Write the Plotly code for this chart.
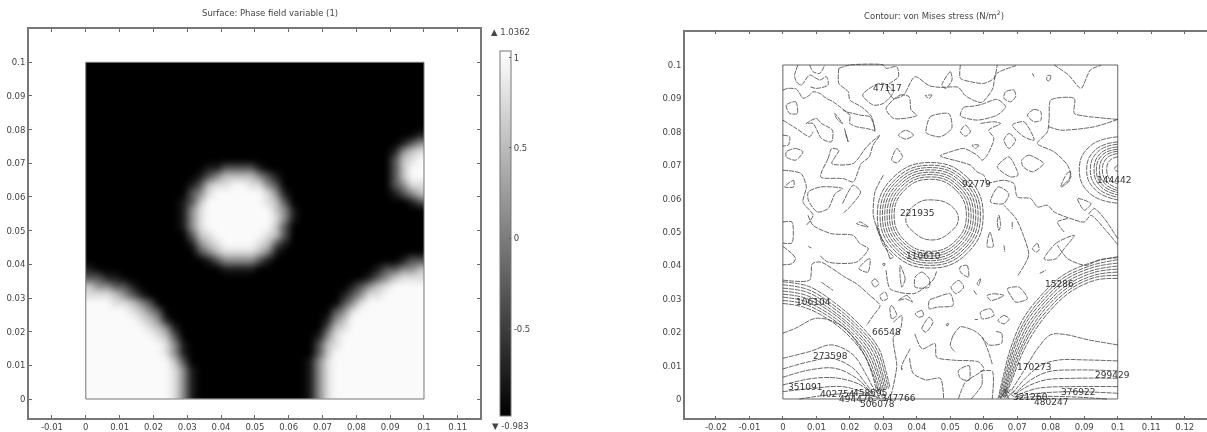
import plotly.graph_objects as go

W, H = 1207, 432
TXT = "#444444"
FONT = "DejaVu Sans"

# ---- left panel: phase field, one digit per cell (0 black ... 9 white)
PHASE_ROWS_TOP_DOWN = [
    "0"*40, "0"*40, "0"*40, "0"*40, "0"*40, "0"*40, "0"*40, "0"*40,
    "0"*39 + "1",
    "0"*37 + "135",
    "0"*36 + "1578",
    "0"*36 + "3789",
    "0"*14 + "11333310" + "0"*14 + "3799",
    "0"*13 + "1357777531" + "0"*13 + "3799",
    "0"*12 + "137889988530" + "0"*12 + "3588",
    "0"*12 + "358999999851" + "0"*12 + "1357",
    "0"*11 + "1379999999873" + "0"*14 + "13",
    "0"*11 + "15899999999751" + "0"*15,
    "0"*11 + "15899999999851" + "0"*15,
    "0"*11 + "1589999999973" + "0"*16,
    "0"*12 + "378999999873" + "0"*16,
    "0"*12 + "157899998731" + "0"*16,
    "0"*13 + "3578888751" + "0"*17,
    "0"*14 + "13555531" + "0"*15 + "133",
    "1" + "0"*15 + "1111" + "0"*14 + "133557",
    "3311" + "0"*29 + "1357888",
    "755331" + "0"*25 + "135789999",
    "8887531" + "0"*23 + "1358899999",
    "99988753" + "0"*22 + "3589999999",
    "999998753" + "0"*20 + "35899999999",
    "9999998751" + "0"*18 + "157999999999",
    "99999998751" + "0"*17 + "378999999999",
    "99999999873" + "0"*16 + "1589999999999",
    "999999999851" + "0"*15 + "3789999999999",
    "999999999851" + "0"*15 + "3799999999999",
    "999999999973" + "0"*14 + "15899999999999",
    "9999999999851" + "0"*13 + "15899999999999",
    "9999999999851" + "0"*13 + "15899999999999",
    "9999999999851" + "0"*13 + "15899999999999",
    "9999999999851" + "0"*13 + "15899999999999",
]
PHASE_MIN, PHASE_MAX = -0.983, 1.0362
CB_TICKS = [-0.5, 0, 0.5, 1]
CB_LABELS = ["-0.5", "0", "0.5", "1"]
LEFT_X_TICKS = [-0.01, 0, 0.01, 0.02, 0.03, 0.04, 0.05, 0.06, 0.07, 0.08, 0.09, 0.1, 0.11]
LEFT_X_LABELS = ["-0.01", "0", "0.01", "0.02", "0.03", "0.04", "0.05", "0.06", "0.07", "0.08", "0.09", "0.1", "0.11"]
RIGHT_X_TICKS = [-0.02] + LEFT_X_TICKS + [0.12]
RIGHT_X_LABELS = ["-0.02"] + LEFT_X_LABELS + ["0.12"]
Y_TICKS = [0, 0.01, 0.02, 0.03, 0.04, 0.05, 0.06, 0.07, 0.08, 0.09, 0.1]
Y_LABELS = ["0", "0.01", "0.02", "0.03", "0.04", "0.05", "0.06", "0.07", "0.08", "0.09", "0.1"]
SQUARE_X = [0, 0.1, 0.1, 0, 0]
SQUARE_Y = [0, 0, 0.1, 0.1, 0]

# ---- right panel: contour lines, in millimetres
RINGS_CENTRE = [
    [(59.8,55),(55.2,66.2),(44,70.8),(32.8,66.2),(28.2,55),(32.8,43.8),(44,39.2),(55.2,43.8),(59.8,55)],
    [(59,55),(54.6,65.6),(44,70),(33.4,65.6),(29,55),(33.4,44.4),(44,40),(54.6,44.4),(59,55)],
    [(58.3,55),(54.1,65.1),(44,69.3),(33.9,65.1),(29.7,55),(33.9,44.9),(44,40.7),(54.1,44.9),(58.3,55)],
    [(57.6,55),(53.6,64.6),(44,68.6),(34.4,64.6),(30.4,55),(34.4,45.4),(44,41.4),(53.6,45.4),(57.6,55)],
    [(56.9,55),(53.1,64.1),(44,67.9),(34.9,64.1),(31.1,55),(34.9,45.9),(44,42.1),(53.1,45.9),(56.9,55)],
    [(56.2,55),(52.6,63.6),(44,67.2),(35.4,63.6),(31.8,55),(35.4,46.4),(44,42.8),(52.6,46.4),(56.2,55)],
    [(55.5,55),(52.1,63.1),(44,66.5),(35.9,63.1),(32.5,55),(35.9,46.9),(44,43.5),(52.1,46.9),(55.5,55)],
    [(54.8,55),(51.6,62.6),(44,65.8),(36.4,62.6),(33.2,55),(36.4,47.4),(44,44.2),(51.6,47.4),(54.8,55)],
    [(52.4,54),(50,58),(44.5,59.6),(40,58.5),(36.7,54),(39,50),(44.5,47.6),(50,50),(52.4,54)],
]
RINGS_RIGHT = [
    [(100,78.5),(91.7,75.7),(88.5,68.6),(91.7,61.5),(100,58.6)],
    [(100,77),(93.3,74.6),(90.7,68.6),(93.3,62.6),(100,59.6)],
    [(100,76.3),(94.1,74.1),(91.8,68.6),(94.1,63.1),(100,60.4)],
    [(100,75.5),(94.9,73.6),(92.9,68.6),(94.9,63.6),(100,61.1)],
    [(100,74.8),(95.4,73.1),(93.6,68.6),(95.4,64.1),(100,61.8)],
    [(100,74.2),(96,72.6),(94.5,68.6),(96,64.6),(100,62.4)],
    [(100,73.5),(96.7,72.1),(95.4,68.6),(96.7,65.1),(100,63.1)],
    [(100,72.5),(97.6,71.4),(96.7,68.6),(97.6,65.8),(100,64.4)],
    [(100,70),(99,69),(100,68)],
]
# fans: one row per control point, one column per line
FAN_BL_X = [
    [0,0,0,0,0,0,0,0],
    [8,7.7,7.4,7.1,6.8,6.5,6.2,5.9],
    [15.6,15.1,14.7,14.2,13.8,13.3,12.9,12.4],
    [23,22.4,21.8,21.2,20.7,20.1,19.5,18.9],
    [28.6,28,27.4,26.8,26.1,25.5,24.9,24.3],
    [30.8,30.3,29.7,29.2,28.6,28.1,27.5,27],
    [32,31.5,31,30.5,30.1,29.6,29.1,28.6],
]
FAN_BL_Y = [
    [35.1,34.2,33.2,32.3,31.4,30.5,29.5,28.6],
    [33.6,32.7,31.9,31,30.2,29.3,28.5,27.6],
    [28.7,28.1,27.5,26.9,26.4,25.8,25.2,24.6],
    [22.2,21.8,21.5,21.1,20.8,20.4,20.1,19.7],
    [15.2,14.9,14.6,14.3,14.1,13.8,13.5,13.2],
    [8.2,8.1,7.9,7.8,7.6,7.5,7.3,7.2],
    [3.2,3.1,2.9,2.8,2.6,2.5,2.3,2.2],
]
FAN_BR_X = [
    [100,100,100,100,100,100,100,100],
    [92.3,92.5,92.6,92.8,92.9,93.1,93.2,93.4],
    [83.7,84,84.3,84.6,85,85.3,85.6,85.9],
    [77.2,77.6,78,78.4,78.7,79.1,79.5,79.9],
    [71.8,72.3,72.7,73.2,73.6,74.1,74.5,75],
    [68,68.5,68.9,69.4,69.9,70.4,70.8,71.3],
    [65.9,66.3,66.7,67.1,67.4,67.8,68.2,68.6],
    [64.3,64.6,64.9,65.2,65.5,65.8,66.1,66.4],
]
FAN_BR_Y = [
    [42.6,41.7,40.7,39.8,38.9,38,37,36.1],
    [40.9,40.1,39.4,38.6,37.9,37.1,36.4,35.6],
    [37.1,36.4,35.7,35,34.2,33.5,32.8,32.1],
    [31.1,30.5,29.8,29.2,28.5,27.9,27.2,26.6],
    [24.1,23.5,23,22.4,21.8,21.2,20.7,20.1],
    [15.2,14.9,14.6,14.3,14.1,13.8,13.5,13.2],
    [7.2,7.1,6.9,6.8,6.6,6.5,6.3,6.2],
    [.2,.3,.3,.4,.5,.5,.6,.7],
]
CORNER_LINES = [
    [(0,19.7),(3.8,21.2),(10.3,24.2),(17.8,21.7),(23.2,15.2),(26.4,8.2),(28,2.2)],
    [(0,12.2),(8,14.2),(14.6,16.2),(21,13.2),(24.9,7.2),(27.5,2.2)],
    [(0,9),(8,11.2),(14.6,12.2),(21,9.2),(24.3,5.2),(27,1.7)],
    [(0,6.5),(8,8.7),(15.6,9.2),(22,6.2),(26.5,1.7)],
    [(0,4.2),(9.2,6.2),(16.7,6.2),(23.2,4.2),(26.9,1.2)],
    [(0,2.2),(9.2,3.2),(17.8,3.7),(26.5,1.2)],
    [(4.9,0),(13.5,1.2),(22.1,1.7),(28.6,.4)],
    [(27.5,3),(29,0)], [(28,3.5),(30,0)], [(26,2.5),(28.5,0)], [(29,3.5),(31,0)],
    [(100,16.2),(91.3,17.7),(83.7,19.4),(79.9,19.2),(76.1,15.2),(71.8,8.2),(68,2.2)],
    [(100,11.4),(90.2,11.7),(82.6,11.7),(77.2,10.2),(72.4,6.2),(68.6,1.7)],
    [(100,8.4),(88,8.7),(79.4,8.2),(74,5.7),(69.1,1.4)],
    [(100,6.2),(86.9,6.2),(78.3,5.7),(72.9,3.7),(69.1,1.2)],
    [(100,3.7),(85.9,3.7),(76.1,3.2),(69.7,1)],
    [(100,1.7),(86.9,2.2),(76.1,1.7),(69.7,.7)],
    [(96.7,0),(84.8,.7),(75,.7),(69.7,.2)],
    [(66,3),(67.5,0)], [(67,3.5),(65,0)], [(68,3),(66,0)], [(69,2.5),(66.5,0)], [(66.5,2.5),(70,0)],
]
NOISE_LINES = [
    [(0,92.5),(1.5,93),(4,92.8),(5,91.5),(6,90),(8,91),(9,92),(11,91.5),(13,90),(15,89),(17,87.5),(19,86),(21,85.5),(23,85),(26,84.5),(27,82.5),(27.5,80.5),(25,81),(22,81.5),(20,82.5),(20,85),(18,86.5)],
    [(4.5,100),(3.5,97),(4,95),(5.5,94),(8,97),(11,95.5),(13,96.5),(13.5,94),(10,93),(8,93.5)],
    [(8,100),(9,98),(11,97.5),(12.5,100)],
    [(16.7,99),(16.7,94.5),(19.5,92),(20,89.5),(23.4,87.5),(26.5,84.5),(27.5,80)],
    [(16.7,99),(20,100),(30,100),(30.8,99),(34,99.5),(34.5,96.5),(31,93.5),(33,90),(36,91),(39.4,96.5),(43.7,93.8),(47,93.3),(52.4,93.3),(54.5,90.8),(59.3,88.8),(62.6,92.8),(63.7,97.3),(69.6,99.8)],
    [(23.8,91),(27.5,94),(30,94.5),(33,92),(30,88.5),(27,88),(23.8,91)],
    [(30.8,87),(35,91),(37.7,90.5),(38.3,86.5),(40,84.9),(33,84),(30.8,87)],
    [(47.5,94),(50,98),(50.5,95.5),(48.6,93),(47.5,94)],
    [(53,100),(53,96),(56,95),(60,94.5),(63,96),(64,100)],
    [(66.5,92),(69,92.5),(69.5,90.5),(68,89),(66,90),(66.5,92)],
    [(42.5,90.8),(44.5,91),(43.7,90),(42.5,90.8)],
    [(79,96.8),(80,96.8),(79.5,95.2),(78.8,95.5),(79,96.8)],
    [(74.5,97.5),(75,96.5)],
    [(81,100),(85.3,97),(89,93),(91.8,98.5),(95,99.9)],
    [(100,83.7),(90.2,84.7),(87,85.5),(87,90),(80,89.5),(79.5,84),(79,80),(76,76.5),(81,74),(85,70),(86,66.5),(83.5,64)],
    [(100,83.7),(93,81.5),(83,80.5),(79.4,81.5)],
    [(53,84.8),(54,87.3),(57,87.7),(59.3,88.2),(64,89.7),(66.5,87.5),(64,85),(58,83.5),(53,84.8)],
    [(73,85),(75,86.7),(77,86),(77,83.5),(75,83),(73,85)],
    [(42.7,80),(44,84.5),(49.6,85.4),(50.4,81),(47,78.5),(43,79.5),(42.7,80)],
    [(34.5,79),(36.7,80.5),(39,79),(36.7,77.8),(34.5,79)],
    [(53,80),(54.5,82),(56,80),(54.5,78.7),(53,80)],
    [(59,82.5),(63,83),(65,82.5),(61.5,80.5),(63,78),(61,73),(59.5,71.5),(58,73),(54,75),(50,74),(47,72.8),(53,71),(56,70),(58,68),(60,67),(61,64)],
    [(66,77.5),(67.5,79.5),(69.5,77.5),(67.5,75),(66,77.5)],
    [(68.5,82),(72,83),(75,77.5),(72,78.5),(68.5,82)],
    [(56.5,76),(58.5,76),(57.5,75),(56.5,76)],
    [(1,88),(3.8,89),(4.3,85.5),(2,85.5),(1,88)],
    [(15.5,85.5),(17.8,82.5),(16,84),(15.5,85.5)],
    [(7,82.5),(10,84),(11.5,82.5),(14.8,80.5),(14.5,77),(11.5,78),(9,82.5),(7,82.5)],
    [(0,83.5),(4,81),(8,78.5),(9,80)],
    [(0,79),(2,78.5),(1.6,76),(0,75.8)],
    [(18.4,81),(19.5,77),(18.5,80)],
    [(1,74),(3.8,75),(6,74),(3.8,71.5),(1,72.5),(1,74)],
    [(11.3,66.5),(13.5,72),(14.6,75),(16.7,74.5),(14.6,70.5),(21,70.5),(25,75.5),(29,79),(26.9,76),(25.8,72.5),(23.4,70.5),(21,65),(18,66),(11.3,66.5)],
    [(32.5,71.5),(34,75),(35.7,72.5),(34,70.7),(32.5,71.5)],
    [(0,68.5),(5.4,67.5),(7,63.5),(6,59),(9,55),(7,52)],
    [(0.5,63.5),(3.2,65.5),(3.2,63.5),(0.5,63.5)],
    [(7.6,62),(11.3,63.5),(17.8,63),(15.6,61.5),(13.5,57),(10.3,56),(7.6,59.5),(7.6,62)],
    [(17.8,58.5),(21,64),(23.2,62),(20,57.5),(17.8,55.5)],
    [(64,69.5),(67.5,72.5),(70.2,67),(68,66.5),(64,69.5)],
    [(71.3,71.5),(73.4,73),(77.8,70.5),(74.5,68),(71.7,69.6),(71.3,71.5)],
    [(83,63.5),(84.8,67.5),(85.8,68),(85.3,65),(83,63.5)],
    [(62,59),(64.3,63.5),(67.5,61.5),(65.9,58.5),(62,59)],
    [(61,64.5),(66,65.5),(69,64.5),(70,60.5),(74,60),(76,57.5),(79,58),(81,56),(86,54),(90,53),(92,55),(96,51),(100,46.2)],
    [(0,45.7),(2.7,43.5),(3.8,42),(2.7,40.5),(0,40.2)],
    [(0,53),(2.7,53),(2.7,46.7),(0,46.7)],
    [(0,35.6),(8,35.6),(8.8,40.5),(11.3,41),(18.5,36.5),(22,34.5),(26,31),(29,28),(27,25),(25,22)],
    [(7.5,55),(9,52),(14.5,49.5),(21,49),(23,46.5),(25.5,45),(22,41),(13.5,41),(11,43)],
    [(32,42),(30.5,46),(28.5,50),(27,55),(27.5,62),(30,67)],
    [(35,40),(36.5,36),(35.5,33.5),(35,37),(35,40)],
    [(39.5,36.5),(41.5,38),(43.7,36),(43.7,33.5),(39.5,33.5),(39.5,36.5)],
    [(26.5,35),(27.5,36),(28.6,34.5),(27.5,33.5),(26.5,35)],
    [(22.7,39),(24.9,41.5),(26,42),(25.4,38),(22.7,39)],
    [(29.7,40.5),(30.5,40.5),(30.2,39.8),(29.7,40.5)],
    [(29,31),(30.6,32),(31.2,30),(29.6,29.5),(29,31)],
    [(34.5,29.5),(37,31),(38.7,29),(36.7,30),(34.5,29.5)],
    [(50.2,33.5),(52.5,35.5),(54,33.5),(51.7,31.5),(50.2,33.5)],
    [(52.9,39.5),(55,40),(55.4,36.5),(53,38),(52.9,39.5)],
    [(43.7,29.5),(46,30.5),(50,31.5),(50.8,28),(46,27.5),(43.7,27),(43.7,29.5)],
    [(58,34.6),(59,36),(58.5,34),(58,34.6)],
    [(57,32.5),(58,31)],
    [(61,31),(63,31.5),(66,31),(64,30),(62,29.5),(61,31)],
    [(67,33),(70.5,33.5),(73,30),(69.5,29),(68,31),(67,33)],
    [(59,26),(62,27),(63,25),(59.5,24),(59,26)],
    [(64.2,23.5),(66,25),(67.6,24),(66,22.5),(64.2,23.5)],
    [(39.5,25.5),(41.5,26.5),(42,25),(40.5,24.5),(39.5,25.5)],
    [(41.5,21),(43.7,24.5),(44.8,23),(42.7,20),(41.5,21)],
    [(48.8,22.5),(49.5,22.5),(49,21.8),(48.8,22.5)],
    [(32,27.5),(32.5,28),(34,25),(32.5,24),(32,27.5)],
    [(57.3,23.8),(58.2,23.8)],
    [(33,23),(35.5,25),(35,20.5),(33,18.5),(34,10),(33,4),(32,0)],
    [(39.4,19.5),(41.6,15),(45.4,16.6),(45.9,12.5),(51.3,11.6),(58.4,11.1),(60,9),(54.5,5),(52.4,0)],
    [(37.8,12.2),(38.9,7.7),(42.7,5.7),(47,6.2),(48,0)],
    [(52.4,8.5),(55.6,10),(55.6,5.6),(53,6.2),(52.4,8.5)],
    [(58.9,8.3),(62.5,8.3),(62.5,0)],
    [(56.2,0),(59.4,4.2),(59.4,7.7)],
    [(50.8,19),(53,21.6),(56.8,20.6),(59.4,18.6),(61,15.2),(62.6,10.2)],
    [(63.7,20.2),(65.3,19.7),(65.3,16.7),(61.5,16.2),(59.4,18.6)],
    [(50.8,19),(50,16),(51.5,14)],
    [(100,42.3),(94.5,41.7),(90.5,40),(85,42),(82,46)],
    [(70.2,37),(73.4,43.1),(71.8,49),(69.6,54),(66,58)],
    [(74.5,45),(76,46.6),(76.5,44.6),(75.6,44),(74.5,45)],
    [(78,42),(81.5,46.6),(87,49),(84,45),(81.5,42),(78.6,41.6),(78,42)],
    [(76.7,37.6),(78.5,38.5)],
    [(66,46),(66.3,44)],
    [(68.5,53),(68.5,51)],
    [(64,53),(64.5,55),(65,52),(64.5,50.5),(64,53)],
    [(61,45.6),(61.8,50),(62.8,45.6),(61,45.6)],
    [(22,52.5),(25.5,51.5),(23,53),(22,52.5)],
    [(7.6,45.7),(8.5,45.2)],
    [(11.5,35),(15,32.5)],
    [(30.8,38.6),(31.9,33.1),(34.5,32),(39.4,31.6),(44.8,35.6),(45.9,38.2)],
    [(38,15),(35.5,10),(35.5,8.5)],
    [(35.3,9),(35.8,9)],
    [(28,52),(30,46),(33,42.5),(32,42)],
    [(100,48),(96,54),(93,57),(91,55)],
    [(84,50),(82,53),(85,54)],
    [(88,60),(92,58.5),(90,56.5),(88,60)],
]
CONTOUR_LABELS = [
    ("47117", 31.3, 93), ("92779", 57.8, 64.3), ("144442", 98.8, 65.5), ("221935", 40, 55.8),
    ("110610", 42.1, 42.8), ("15286", 82.6, 34.4), ("106104", 9, 28.9), ("66548", 30.8, 20.2),
    ("273598", 14.3, 12.9), ("351091", 6.5, 3.6), ("402754", 16.2, 1.4), ("458595", 25.9, 1.7),
    ("494476", 21.9, -0.1), ("506078", 28.1, -1.5), ("347766", 34.6, 0.2), ("170273", 75, 9.6),
    ("299429", 98.5, 7.2), ("376922", 88, 2.1), ("321260", 74, 0.5), ("480247", 80.2, -1),
]

fig = go.Figure()

# two extra cells on each side (edge cells repeated) keep the soft edge of the image out of the square
PAD = 2
cells = [[PHASE_MIN + int(c) * 0.22 for c in row] for row in reversed(PHASE_ROWS_TOP_DOWN)]
cells = [row[:1] * PAD + row + row[-1:] * PAD for row in cells]
z = cells[:1] * PAD + cells + cells[-1:] * PAD
fig.add_trace(go.Heatmap(
    z=z, x0=0.00125 - PAD * 0.0025, dx=0.0025, y0=0.00125 - PAD * 0.0025, dy=0.0025, zsmooth="best",
    zmin=PHASE_MIN, zmax=PHASE_MAX, colorscale=[[0, "#000000"], [1, "#ffffff"]],
    xaxis="x", yaxis="y", hoverinfo="skip",
    colorbar=dict(
        x=500 / W, xanchor="left", xref="paper", y=(H - 416) / H, yanchor="bottom", yref="paper",
        len=365 / H, lenmode="fraction", thickness=11, thicknessmode="pixels",
        outlinecolor="#777777", outlinewidth=1, borderwidth=0, xpad=0, ypad=0,
        tickvals=CB_TICKS, ticktext=CB_LABELS, ticks="inside", ticklen=2, tickcolor="#555555",
        tickfont=dict(family=FONT, size=8.5, color=TXT),
    ),
))
fig.add_trace(go.Scatter(x=SQUARE_X, y=SQUARE_Y, mode="lines", line=dict(color="#777777", width=1),
                         xaxis="x", yaxis="y", showlegend=False, hoverinfo="skip"))
fig.add_trace(go.Scatter(x=SQUARE_X, y=SQUARE_Y, mode="lines", line=dict(color="#666666", width=1),
                         xaxis="x2", yaxis="y2", showlegend=False, hoverinfo="skip"))


def draw(points, smoothing):
    fig.add_trace(go.Scatter(
        x=[p[0] / 1000 for p in points], y=[p[1] / 1000 for p in points],
        mode="lines",
        line=dict(color="#333333", width=0.75, shape="spline", smoothing=smoothing, dash="5px,1px"),
        xaxis="x2", yaxis="y2", showlegend=False, hoverinfo="skip"))


for path in RINGS_CENTRE + RINGS_RIGHT:
    draw(path, 1.3)
for path in CORNER_LINES:
    draw(path, 1.0)
for path in NOISE_LINES:
    draw(path, 0.7)
for fx, fy in ((FAN_BL_X, FAN_BL_Y), (FAN_BR_X, FAN_BR_Y)):
    for col in range(len(fx[0])):
        draw([(rx[col], ry[col]) for rx, ry in zip(fx, fy)], 1.0)

for text, x_mm, y_mm in CONTOUR_LABELS:
    fig.add_annotation(x=x_mm / 1000, y=y_mm / 1000, xref="x2", yref="y2", text=text, showarrow=False,
                       font=dict(family=FONT, size=9, color="#333333"))

for text, px, py, size in (
    ("Surface: Phase field variable (1)", 270, 13, 8.5),
    ("Contour: von Mises stress (N/m<sup>2</sup>)", 934, 15, 8.5),
    ("▲ 1.0362", 510, 32, 8.5),
    ("▼ -0.983", 510, 426, 8.5),
):
    fig.add_annotation(x=px / W, y=1 - py / H, xref="paper", yref="paper", text=text, showarrow=False,
                       xanchor="center", yanchor="middle",
                       font=dict(family=FONT, size=size, color=TXT))

axis = dict(showgrid=False, zeroline=False, showline=True, linecolor="#777777", linewidth=1.5,
            ticks="inside", ticklen=3, tickwidth=1, tickcolor="#666666",
            tickfont=dict(family=FONT, size=8.5, color=TXT))
fig.update_layout(
    width=W, height=H, margin=dict(l=0, r=0, t=0, b=0, pad=0),
    paper_bgcolor="white", plot_bgcolor="white", showlegend=False,
    xaxis=dict(axis, domain=[28.8 / W, 480 / W], range=[-0.01685, 0.11656], anchor="y", mirror="ticks",
               tickvals=LEFT_X_TICKS, ticktext=LEFT_X_LABELS),
    yaxis=dict(axis, domain=[1 - 418 / H, 1 - 29 / H], range=[-0.00564, 0.10989], anchor="x", mirror="ticks",
               tickvals=Y_TICKS, ticktext=Y_LABELS),
    xaxis2=dict(axis, domain=[684.8 / W, 1], range=[-0.02929, 0.12664], anchor="y2", mirror="ticks",
                tickvals=RIGHT_X_TICKS, ticktext=RIGHT_X_LABELS),
    yaxis2=dict(axis, domain=[1 - 418.3 / H, 1 - 31.7 / H], range=[-0.00578, 0.10997], anchor="x2",
                ticks="", tickvals=Y_TICKS, ticktext=Y_LABELS),
)
PAGE_STYLE = """
document.body.style.margin = '0';
document.documentElement.style.overflow = 'hidden';
document.querySelectorAll('.hm image').forEach(function (im) {
  im.style.filter = 'blur(2.5px)';
  im.style.clipPath = 'inset(16.8px 16.9px 16.8px 16.9px)';
});
document.querySelectorAll('.main-svg').forEach(function (s) { s.style.filter = 'blur(0.55px)'; });
"""
fig.write_html("out.html", config=dict(displayModeBar=False), post_script=PAGE_STYLE)
